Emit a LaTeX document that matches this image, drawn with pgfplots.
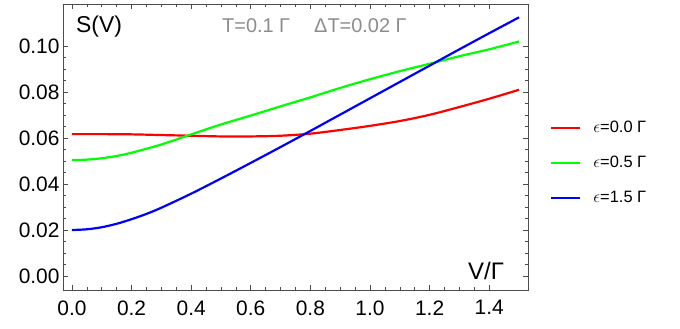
\documentclass[border=0pt]{standalone}
\usepackage{pgfplots}
\pgfplotsset{compat=1.18}
\usepackage{fontspec}
\setmainfont{Liberation Sans}
\begin{document}
\begin{tikzpicture}
\useasboundingbox (0,0) rectangle (680bp,329bp);
\begin{axis}[
 at={(63bp,39bp)}, anchor=south west,
 scale only axis, width=465bp, height=286bp,
 xmin=-0.03, xmax=1.53, ymin=-0.0061, ymax=0.1183,
 xtick={0,0.2,0.4,0.6,0.8,1.0,1.2,1.4},
 ytick={0,0.02,0.04,0.06,0.08,0.1},
 minor x tick num=3, minor y tick num=3,
 tick align=inside,
 major tick length=5bp, minor tick length=3bp,
 axis line style={black!70, line width=0.8bp},
 every tick/.style={black!70, line width=0.6bp},
 /pgf/number format/assume math mode=true,
 xticklabel style={yshift=-7bp, /pgf/number format/.cd, fixed, fixed zerofill, precision=1},
 yticklabel style={/pgf/number format/.cd, fixed, fixed zerofill, precision=2},
 tick label style={font=\fontsize{21}{24}\selectfont},
 scaled y ticks=false, scaled x ticks=false,
 legend style={at={(1,0.445)}, anchor=west, xshift=22bp, draw=none, fill=none,
   font=\fontsize{16.5}{19}\selectfont, row sep=18bp, column sep=10bp, inner sep=0pt},
 legend cell align=left,
 legend image code/.code={\draw[#1] (0bp,0bp) -- (29bp,0bp);},
 every axis plot/.append style={line width=2.2bp, smooth},
]
\addplot[red] coordinates {
(0,0.0617)(0.1,0.0617)(0.2,0.0616)(0.3,0.0613)(0.4,0.0610)(0.5,0.0607)(0.6,0.0607)(0.7,0.0610)
(0.8,0.0619)(0.9,0.0635)(1.0,0.0653)(1.1,0.0674)(1.2,0.0701)(1.3,0.0735)(1.4,0.0771)(1.5,0.0810)};
\addlegendentry{$\epsilon$=0.0 Γ}
\addplot[green] coordinates {
(0,0.0504)(0.05,0.0506)(0.1,0.0512)(0.15,0.0522)(0.2,0.0536)(0.3,0.0572)(0.4,0.0616)(0.5,0.0659)(0.6,0.0698)(0.7,0.0738)
(0.8,0.0777)(0.9,0.0818)(1.0,0.0856)(1.1,0.0891)(1.2,0.0923)(1.3,0.0956)(1.4,0.0986)(1.5,0.1020)};
\addlegendentry{$\epsilon$=0.5 Γ}
\addplot[blue] coordinates {
(0,0.0200)(0.05,0.0203)(0.1,0.0212)(0.15,0.0227)(0.2,0.0247)(0.25,0.0270)(0.3,0.0297)(0.4,0.0358)(0.5,0.0424)(0.6,0.0492)(0.7,0.0561)
(0.8,0.0631)(0.9,0.0702)(1.0,0.0773)(1.1,0.0844)(1.2,0.0915)(1.3,0.0986)(1.4,0.1056)(1.5,0.1125)};
\addlegendentry{$\epsilon$=1.5 Γ}
\end{axis}
\node[anchor=base west, font=\fontsize{23}{26}\selectfont, inner sep=0pt] at (76bp,296bp) {S(V)};
\node[anchor=base west, font=\fontsize{20}{24}\selectfont, text=black!45, inner sep=0pt] at (222bp,296bp) {T=0.1 Γ\hspace{24bp}ΔT=0.02 Γ};
\node[anchor=base west, font=\fontsize{24}{27}\selectfont, inner sep=0pt] at (468bp,49bp) {V/Γ};
\end{tikzpicture}
\end{document}
